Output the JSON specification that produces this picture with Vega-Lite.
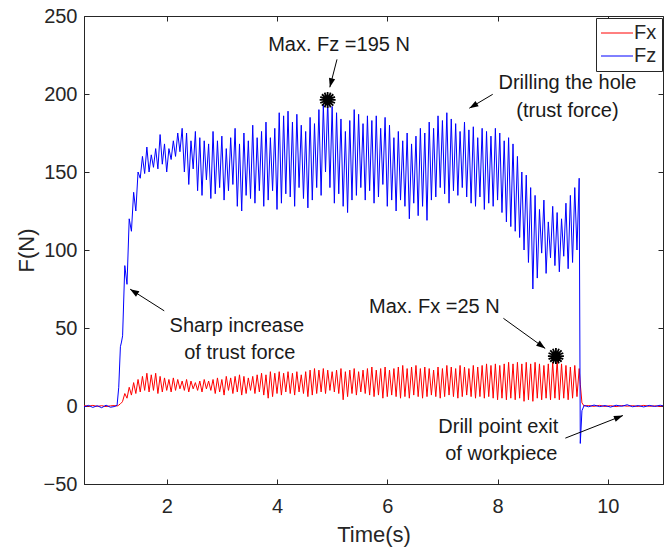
{
"$schema":"https://vega.github.io/schema/vega-lite/v6.json",
"width":579,"height":468,
"autosize":{"type":"none"},
"padding":{"left":84,"top":16,"right":6,"bottom":64},
"background":"white",
"config":{"view":{"stroke":"#262626","strokeWidth":1},"font":"Liberation Sans"},
"datasets":{
"force":[
{"t":0.5,"x":0.3,"z":-0.6},{"t":0.58,"x":-0.2,"z":0.4},{"t":0.66,"x":0.4,"z":-0.9},{"t":0.74,"x":-0.3,"z":0.2},{"t":0.82,"x":0.2,"z":-1.1},{"t":0.9,"x":-0.4,"z":0.5},{"t":0.98,"x":0.1,"z":-0.8},{"t":1.06,"x":0.3,"z":-0.3},{"t":1.1,"x":0,"z":0.5},{"t":1.13,"x":0.5,"z":12},{"t":1.16,"x":1.5,"z":38},{"t":1.18,"x":2,"z":41},
{"t":1.2,"x":3,"z":45},{"t":1.24,"x":8,"z":90},{"t":1.28,"x":5,"z":78},{"t":1.32,"x":12,"z":120},{"t":1.36,"x":7,"z":112},{"t":1.4,"x":15,"z":137},{"t":1.44,"x":8,"z":125},{"t":1.48,"x":17,"z":150},{"t":1.52,"x":9,"z":146},{"t":1.56,"x":19,"z":160},{"t":1.6,"x":10,"z":149},{"t":1.64,"x":21,"z":166},{"t":1.68,"x":9,"z":150},{"t":1.72,"x":20,"z":161},{"t":1.76,"x":10,"z":153},{"t":1.8,"x":21,"z":165},{"t":1.84,"x":8,"z":152},{"t":1.88,"x":19,"z":174},{"t":1.92,"x":9,"z":155},{"t":1.96,"x":18,"z":168},{"t":2.0,"x":10,"z":150},{"t":2.04,"x":17,"z":165},{"t":2.08,"x":9,"z":158},{"t":2.12,"x":18,"z":170},{"t":2.16,"x":10,"z":160},{"t":2.2,"x":17,"z":175},{"t":2.24,"x":11,"z":163},{"t":2.28,"x":16,"z":178},
{"t":2.32,"x":10,"z":150},{"t":2.36,"x":17,"z":175},{"t":2.4,"x":9,"z":142},{"t":2.44,"x":16,"z":170},{"t":2.48,"x":11,"z":152},{"t":2.52,"x":15,"z":176},{"t":2.56,"x":10,"z":138},{"t":2.6,"x":16,"z":172},{"t":2.64,"x":9,"z":135},{"t":2.68,"x":17,"z":170},{"t":2.72,"x":11,"z":145},{"t":2.76,"x":16,"z":168},{"t":2.8,"x":10,"z":133},{"t":2.84,"x":17,"z":176},{"t":2.88,"x":8,"z":136},{"t":2.92,"x":18,"z":170},{"t":2.96,"x":9,"z":140},{"t":3.0,"x":17,"z":173},
{"t":3.04,"x":7,"z":132},{"t":3.08,"x":19,"z":165},{"t":3.12,"x":10,"z":138},{"t":3.16,"x":18,"z":172},{"t":3.2,"x":8,"z":142},{"t":3.24,"x":19,"z":178},{"t":3.28,"x":9,"z":128},{"t":3.32,"x":20,"z":168},{"t":3.36,"x":7,"z":125},{"t":3.4,"x":19,"z":175},{"t":3.44,"x":8,"z":135},{"t":3.48,"x":18,"z":170},{"t":3.52,"x":10,"z":133},{"t":3.56,"x":19,"z":180},{"t":3.6,"x":8,"z":130},{"t":3.64,"x":20,"z":172},{"t":3.68,"x":9,"z":138},{"t":3.72,"x":21,"z":176},{"t":3.76,"x":7,"z":128},{"t":3.8,"x":20,"z":182},{"t":3.84,"x":5,"z":132},{"t":3.88,"x":22,"z":172},{"t":3.92,"x":6,"z":138},{"t":3.96,"x":21,"z":178},
{"t":4.0,"x":8,"z":126},{"t":4.04,"x":22,"z":188},{"t":4.08,"x":7,"z":130},{"t":4.12,"x":21,"z":186},{"t":4.16,"x":9,"z":136},{"t":4.2,"x":22,"z":189},{"t":4.24,"x":8,"z":134},{"t":4.28,"x":21,"z":182},{"t":4.32,"x":7,"z":128},{"t":4.36,"x":22,"z":187},{"t":4.4,"x":9,"z":140},{"t":4.44,"x":20,"z":180},{"t":4.48,"x":8,"z":133},{"t":4.52,"x":22,"z":176},{"t":4.56,"x":6,"z":127},{"t":4.6,"x":23,"z":185},{"t":4.64,"x":7,"z":132},{"t":4.68,"x":24,"z":181},{"t":4.72,"x":8,"z":140},{"t":4.76,"x":23,"z":190},{"t":4.8,"x":9,"z":135},{"t":4.84,"x":24,"z":193},{"t":4.88,"x":8,"z":150},{"t":4.92,"x":23,"z":196},{"t":4.96,"x":10,"z":140},{"t":5.0,"x":22,"z":192},
{"t":5.04,"x":9,"z":130},{"t":5.08,"x":23,"z":188},{"t":5.12,"x":8,"z":136},{"t":5.16,"x":24,"z":184},{"t":5.2,"x":4,"z":128},{"t":5.24,"x":22,"z":176},{"t":5.28,"x":6,"z":124},{"t":5.32,"x":23,"z":183},{"t":5.36,"x":8,"z":132},{"t":5.4,"x":24,"z":190},{"t":5.44,"x":7,"z":135},{"t":5.48,"x":22,"z":187},{"t":5.52,"x":9,"z":140},{"t":5.56,"x":23,"z":181},{"t":5.6,"x":8,"z":132},{"t":5.64,"x":24,"z":186},{"t":5.68,"x":7,"z":138},{"t":5.72,"x":25,"z":183},{"t":5.76,"x":6,"z":130},{"t":5.8,"x":23,"z":186},{"t":5.84,"x":7,"z":134},{"t":5.88,"x":24,"z":178},{"t":5.92,"x":5,"z":142},{"t":5.96,"x":25,"z":185},
{"t":6.0,"x":6,"z":128},{"t":6.04,"x":23,"z":180},{"t":6.08,"x":7,"z":132},{"t":6.12,"x":24,"z":172},{"t":6.16,"x":6,"z":125},{"t":6.2,"x":25,"z":176},{"t":6.24,"x":5,"z":132},{"t":6.28,"x":26,"z":170},{"t":6.32,"x":6,"z":128},{"t":6.36,"x":24,"z":175},{"t":6.4,"x":5,"z":120},{"t":6.44,"x":25,"z":168},{"t":6.48,"x":7,"z":130},{"t":6.52,"x":26,"z":173},{"t":6.56,"x":6,"z":122},{"t":6.6,"x":24,"z":178},{"t":6.64,"x":5,"z":128},{"t":6.68,"x":25,"z":175},{"t":6.72,"x":6,"z":119},{"t":6.76,"x":24,"z":182},{"t":6.8,"x":7,"z":132},{"t":6.84,"x":23,"z":178},{"t":6.88,"x":6,"z":134},{"t":6.92,"x":25,"z":186},{"t":6.96,"x":5,"z":140},{"t":7.0,"x":24,"z":183},
{"t":7.04,"x":6,"z":136},{"t":7.08,"x":26,"z":188},{"t":7.12,"x":7,"z":130},{"t":7.16,"x":25,"z":184},{"t":7.2,"x":6,"z":138},{"t":7.24,"x":24,"z":181},{"t":7.28,"x":5,"z":135},{"t":7.32,"x":26,"z":176},{"t":7.36,"x":6,"z":140},{"t":7.4,"x":25,"z":182},{"t":7.44,"x":7,"z":134},{"t":7.48,"x":24,"z":177},{"t":7.52,"x":6,"z":130},{"t":7.56,"x":26,"z":179},{"t":7.6,"x":5,"z":128},{"t":7.64,"x":25,"z":172},{"t":7.68,"x":6,"z":134},{"t":7.72,"x":26,"z":178},{"t":7.76,"x":5,"z":126},{"t":7.8,"x":27,"z":176},{"t":7.84,"x":6,"z":130},{"t":7.88,"x":26,"z":173},{"t":7.92,"x":5,"z":128},{"t":7.96,"x":27,"z":178},
{"t":8.0,"x":4,"z":132},{"t":8.04,"x":26,"z":175},{"t":8.08,"x":5,"z":124},{"t":8.12,"x":27,"z":170},{"t":8.16,"x":4,"z":118},{"t":8.2,"x":28,"z":172},{"t":8.24,"x":5,"z":115},{"t":8.28,"x":27,"z":168},{"t":8.32,"x":4,"z":112},{"t":8.36,"x":28,"z":160},{"t":8.4,"x":5,"z":108},{"t":8.44,"x":27,"z":150},{"t":8.48,"x":3,"z":100},{"t":8.52,"x":28,"z":148},{"t":8.56,"x":4,"z":92},{"t":8.6,"x":27,"z":140},{"t":8.64,"x":3,"z":75},{"t":8.68,"x":28,"z":135},{"t":8.72,"x":5,"z":82},{"t":8.76,"x":27,"z":126},{"t":8.8,"x":4,"z":98},{"t":8.84,"x":26,"z":132},{"t":8.88,"x":5,"z":85},{"t":8.92,"x":27,"z":118},{"t":8.96,"x":4,"z":95},{"t":9.0,"x":28,"z":128},
{"t":9.04,"x":5,"z":90},{"t":9.08,"x":29,"z":124},{"t":9.12,"x":4,"z":86},{"t":9.16,"x":27,"z":120},{"t":9.2,"x":5,"z":96},{"t":9.24,"x":26,"z":130},{"t":9.28,"x":4,"z":88},{"t":9.32,"x":25,"z":135},{"t":9.36,"x":5,"z":92},{"t":9.4,"x":26,"z":140},{"t":9.44,"x":6,"z":100},{"t":9.48,"x":24,"z":146},
{"t":9.5,"x":14,"z":-24},{"t":9.53,"x":2,"z":-3},{"t":9.57,"x":0,"z":0.4},{"t":9.65,"x":0.3,"z":-0.5},{"t":9.75,"x":-0.2,"z":0.6},{"t":9.85,"x":0.4,"z":-0.4},{"t":9.95,"x":-0.3,"z":0.3},{"t":10.05,"x":0.2,"z":-0.7},{"t":10.15,"x":-0.4,"z":0.5},{"t":10.25,"x":0.3,"z":-0.2},{"t":10.35,"x":-0.1,"z":0.8},{"t":10.45,"x":0.2,"z":-0.5},{"t":10.55,"x":-0.3,"z":0.3},{"t":10.65,"x":0.4,"z":-0.6},{"t":10.75,"x":-0.2,"z":0.4},{"t":10.85,"x":0.1,"z":-0.3},{"t":10.95,"x":-0.3,"z":0.5},{"t":11.0,"x":0.2,"z":0}
],
"notes":[
{"t":5.125,"v":231.2,"label":"Max. Fz =195 N"},
{"t":9.267,"v":207,"label":"Drilling the hole"},
{"t":9.267,"v":189.1,"label":"(trust force)"},
{"t":3.271,"v":51,"label":"Sharp increase"},
{"t":3.325,"v":33.7,"label":"of trust force"},
{"t":6.853,"v":63.7,"label":"Max. Fx =25 N"},
{"t":8.014,"v":-13.3,"label":"Drill point exit"},
{"t":8.068,"v":-30.7,"label":"of workpiece"}
],
"arrows":[
{"id":"fz","t":5.088,"v":222.2,"t2":4.958,"v2":204.3},
{"id":"drill","t":7.912,"v":199.8,"t2":7.488,"v2":190.9},
{"id":"sharp","t":1.955,"v":61,"t2":1.336,"v2":74.9},
{"id":"fx","t":8.106,"v":56.2,"t2":8.864,"v2":36.9},
{"id":"exit","t":9.229,"v":-20.6,"t2":10.273,"v2":-6.1}
],
"peaks":[
{"t":4.918,"v":196.2},
{"t":9.058,"v":32}
]
},
"layer":[
{"data":{"name":"force"},
 "mark":{"type":"line","strokeWidth":1},
 "encoding":{
  "x":{"field":"t","type":"quantitative","title":"Time(s)","scale":{"domain":[0.5,11],"nice":false,"zero":false},
   "axis":{"orient":"bottom","values":[2,4,6,8,10],"tickSize":-5,"labelPadding":17,"labelFontSize":20,"labelColor":"#262626","tickColor":"#262626","domainColor":"#262626","grid":false,"titleFontSize":22,"titleFontWeight":"normal","titleColor":"#262626","titleY":50,"titleBaseline":"middle","titleAlign":"center"}},
  "y":{"field":"x","type":"quantitative","title":"F(N)","scale":{"domain":[-50,250],"nice":false,"zero":false},
   "axis":{"orient":"left","values":[-50,0,50,100,150,200,250],"tickSize":-5,"labelPadding":12,"labelFontSize":20,"labelColor":"#262626","tickColor":"#262626","domainColor":"#262626","grid":false,"titleFontSize":22,"titleFontWeight":"normal","titleColor":"#262626","titleX":-58,"titleY":234,"titleAngle":-90,"titleBaseline":"middle","titleAlign":"center"}},
  "color":{"datum":"Fx","type":"nominal","scale":{"domain":["Fx","Fz"],"range":["#ff0000","#0000ff"]},
   "legend":{"orient":"none","legendX":512,"legendY":2,"title":null,"symbolType":"M-2,0L2,0","symbolSize":256,"symbolStrokeWidth":1,"labelFontSize":20,"labelColor":"#262626","strokeColor":"#262626","fillColor":"white","padding":5,"rowPadding":3,"symbolOffset":6,"labelOffset":7}}
 }},
{"data":{"name":"force"},
 "mark":{"type":"line","strokeWidth":1},
 "encoding":{
  "x":{"field":"t","type":"quantitative","title":"Time(s)","axis":null},
  "y":{"field":"z","type":"quantitative","title":"F(N)","axis":null},
  "color":{"datum":"Fz","type":"nominal"}
 }},
{"data":{"name":"arrows"},
 "mark":{"type":"rule","color":"#000000","strokeWidth":1},
 "encoding":{
  "x":{"field":"t","type":"quantitative","title":"Time(s)","axis":null},
  "y":{"field":"v","type":"quantitative","title":"F(N)","axis":null},
  "x2":{"field":"t2"},"y2":{"field":"v2"}
 }},
{"data":{"name":"arrows"},"transform":[{"filter":"datum.id == 'fz'"}],
 "mark":{"type":"point","shape":"M0,0L-0.35,1L0.35,1Z","angle":194.5,"size":324,"filled":true,"color":"#000000","opacity":1},
 "encoding":{"x":{"field":"t2","type":"quantitative","title":"Time(s)","axis":null},"y":{"field":"v2","type":"quantitative","title":"F(N)","axis":null}}},
{"data":{"name":"arrows"},"transform":[{"filter":"datum.id == 'drill'"}],
 "mark":{"type":"point","shape":"M0,0L-0.35,1L0.35,1Z","angle":239.3,"size":324,"filled":true,"color":"#000000","opacity":1},
 "encoding":{"x":{"field":"t2","type":"quantitative","title":"Time(s)","axis":null},"y":{"field":"v2","type":"quantitative","title":"F(N)","axis":null}}},
{"data":{"name":"arrows"},"transform":[{"filter":"datum.id == 'sharp'"}],
 "mark":{"type":"point","shape":"M0,0L-0.35,1L0.35,1Z","angle":302.5,"size":324,"filled":true,"color":"#000000","opacity":1},
 "encoding":{"x":{"field":"t2","type":"quantitative","title":"Time(s)","axis":null},"y":{"field":"v2","type":"quantitative","title":"F(N)","axis":null}}},
{"data":{"name":"arrows"},"transform":[{"filter":"datum.id == 'fx'"}],
 "mark":{"type":"point","shape":"M0,0L-0.35,1L0.35,1Z","angle":125.8,"size":324,"filled":true,"color":"#000000","opacity":1},
 "encoding":{"x":{"field":"t2","type":"quantitative","title":"Time(s)","axis":null},"y":{"field":"v2","type":"quantitative","title":"F(N)","axis":null}}},
{"data":{"name":"arrows"},"transform":[{"filter":"datum.id == 'exit'"}],
 "mark":{"type":"point","shape":"M0,0L-0.35,1L0.35,1Z","angle":68.5,"size":324,"filled":true,"color":"#000000","opacity":1},
 "encoding":{"x":{"field":"t2","type":"quantitative","title":"Time(s)","axis":null},"y":{"field":"v2","type":"quantitative","title":"F(N)","axis":null}}},
{"data":{"name":"notes"},
 "mark":{"type":"text","fontSize":20,"font":"Liberation Sans","color":"#1a1a1a","align":"center","baseline":"middle"},
 "encoding":{
  "x":{"field":"t","type":"quantitative","title":"Time(s)","axis":null},
  "y":{"field":"v","type":"quantitative","title":"F(N)","axis":null},
  "text":{"field":"label"}
 }},
{"data":{"name":"peaks"},
 "mark":{"type":"point","shape":"M-1,0L1,0M0,-1L0,1M-0.71,-0.71L0.71,0.71M-0.71,0.71L0.71,-0.71M-0.92,-0.38L0.92,0.38M-0.92,0.38L0.92,-0.38M-0.38,-0.92L0.38,0.92M-0.38,0.92L0.38,-0.92","size":256,"filled":false,"fill":null,"stroke":"#000000","strokeWidth":1.8,"opacity":1},
 "encoding":{
  "x":{"field":"t","type":"quantitative","title":"Time(s)","axis":{"orient":"top","labels":false,"title":null,"domain":false,"grid":false,"values":[2,4,6,8,10],"tickSize":-5,"tickColor":"#262626"}},
  "y":{"field":"v","type":"quantitative","title":"F(N)","axis":{"orient":"right","labels":false,"title":null,"domain":false,"grid":false,"values":[-50,0,50,100,150,200,250],"tickSize":-5,"tickColor":"#262626"}}
 }}
]
}
